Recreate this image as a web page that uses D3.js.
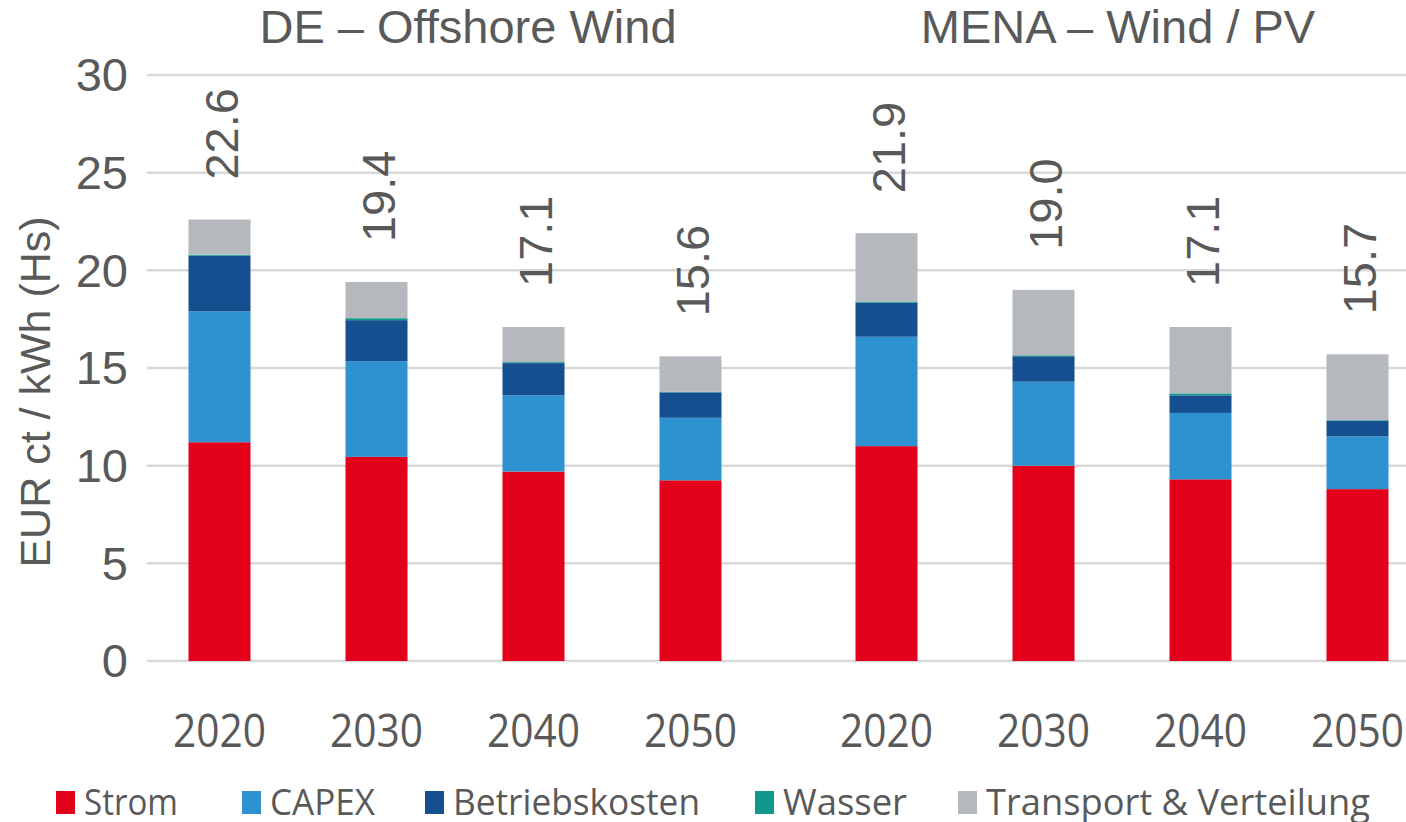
<!DOCTYPE html>
<html><head><meta charset="utf-8">
<script src="https://cdn.jsdelivr.net/npm/d3@7"></script>
<style>html,body{margin:0;padding:0;background:#fff;}svg{display:block;}</style>
</head><body>
<svg id="chart" width="1406" height="822"></svg>
<script>
const categories = ["2020", "2030", "2040", "2050"];
const groupTitles = ["DE – Offshore Wind", "MENA – Wind / PV"];
const seriesNames = ["Strom", "CAPEX", "Betriebskosten", "Wasser", "Transport & Verteilung"];
const seriesColors = ["#E2001A", "#2E91D0", "#154F8F", "#10998A", "#B5B9BD"];
const yTicks = [0, 5, 10, 15, 20, 25, 30];
const yLabel = "EUR ct / kWh (Hs)";

const deStrom = [11.2, 10.45, 9.7, 9.25];
const deCapex = [6.7, 4.9, 3.9, 3.2];
const deBetrieb = [2.85, 2.1, 1.65, 1.3];
const deWasser = [0.05, 0.1, 0.05, 0.03];
const deTransport = [1.8, 1.85, 1.8, 1.82];
const deTotals = [22.6, 19.4, 17.1, 15.6];

const menaStrom = [11.0, 10.0, 9.3, 8.8];
const menaCapex = [5.6, 4.3, 3.4, 2.7];
const menaBetrieb = [1.75, 1.3, 0.9, 0.8];
const menaWasser = [0.05, 0.05, 0.1, 0.03];
const menaTransport = [3.5, 3.35, 3.4, 3.37];
const menaTotals = [21.9, 19.0, 17.1, 15.7];

const svg = d3.select("#chart");
const textColor = "#595959";
const y = d3.scaleLinear().domain([0, 30]).range([661, 75]);

// gridlines
svg.append("g").selectAll("line").data(yTicks).join("line")
  .attr("x1", 147).attr("x2", 1406)
  .attr("y1", d => y(d)).attr("y2", d => y(d))
  .attr("stroke", "#D9D9D9").attr("stroke-width", 2.5);

// y tick labels
svg.append("g").selectAll("text").data(yTicks).join("text")
  .attr("x", 128).attr("y", d => y(d)).attr("dy", "0.35em")
  .attr("text-anchor", "end")
  .attr("font-family", "Liberation Sans, Arial, sans-serif")
  .attr("font-size", 47).attr("fill", textColor)
  .text(d => d);

// y axis title
svg.append("text")
  .attr("transform", "translate(50,392) rotate(-90)")
  .attr("text-anchor", "middle")
  .attr("font-family", "Liberation Sans, Arial, sans-serif")
  .attr("font-size", 43).attr("fill", textColor)
  .text(yLabel);

const groups = [
  { title: groupTitles[0], range: [141, 769], shift: 13, cols: [deStrom, deCapex, deBetrieb, deWasser, deTransport], totals: deTotals },
  { title: groupTitles[1], range: [808, 1436], shift: -4, cols: [menaStrom, menaCapex, menaBetrieb, menaWasser, menaTransport], totals: menaTotals }
];

groups.forEach(g => {
  const x = d3.scaleBand().domain(categories).range(g.range).paddingInner(0.605).paddingOuter(0.3025);
  const rows = categories.map((c, i) => {
    const r = { cat: c };
    seriesNames.forEach((s, k) => r[s] = g.cols[k][i]);
    return r;
  });
  const stacked = d3.stack().keys(seriesNames)(rows);
  const gg = svg.append("g");
  stacked.forEach((layer, k) => {
    gg.append("g").attr("fill", seriesColors[k]).selectAll("rect").data(layer).join("rect")
      .attr("x", d => x(d.data.cat))
      .attr("width", x.bandwidth())
      .attr("y", d => y(d[1]))
      .attr("height", d => y(d[0]) - y(d[1]));
  });
  // value labels
  gg.append("g").selectAll("text").data(categories).join("text")
    .attr("transform", (c, i) => `translate(${x(c) + x.bandwidth() / 2 + 2},${y(g.totals[i]) - 40}) rotate(-90)`)
    .attr("dy", "0.36em")
    .attr("text-anchor", "start")
    .attr("font-family", "Liberation Sans, Arial, sans-serif")
    .attr("font-size", 47).attr("fill", textColor)
    .text((c, i) => g.totals[i].toFixed(1));
  // x labels
  gg.append("g").selectAll("text").data(categories).join("text")
    .attr("x", c => x(c) + x.bandwidth() / 2)
    .attr("y", 747)
    .attr("text-anchor", "middle")
    .attr("font-family", "Open Sans, sans-serif")
    .attr("font-size", 45).attr("fill", textColor)
    .attr("textLength", 93).attr("lengthAdjust", "spacingAndGlyphs")
    .text(c => c);
  // title
  const mid = (x(categories[0]) + x(categories[3]) + x.bandwidth()) / 2;
  svg.append("text")
    .attr("x", mid + g.shift).attr("y", 43)
    .attr("text-anchor", "middle")
    .attr("font-family", "Liberation Sans, Arial, sans-serif")
    .attr("font-size", 47).attr("fill", textColor)
    .text(g.title);
});

// legend
const legendX = [56, 242, 425, 755, 958];
const legendW = [94, 105, 247, 124, 384];
const lg = svg.append("g");
seriesNames.forEach((s, k) => {
  lg.append("rect").attr("x", legendX[k]).attr("y", 791).attr("width", 19).attr("height", 23).attr("fill", seriesColors[k]);
  lg.append("text").attr("x", legendX[k] + 28).attr("y", 815)
    .attr("font-family", "Open Sans, sans-serif").attr("font-size", 37).attr("fill", textColor)
    .attr("textLength", legendW[k]).attr("lengthAdjust", "spacingAndGlyphs")
    .text(s);
});
</script>
</body></html>
